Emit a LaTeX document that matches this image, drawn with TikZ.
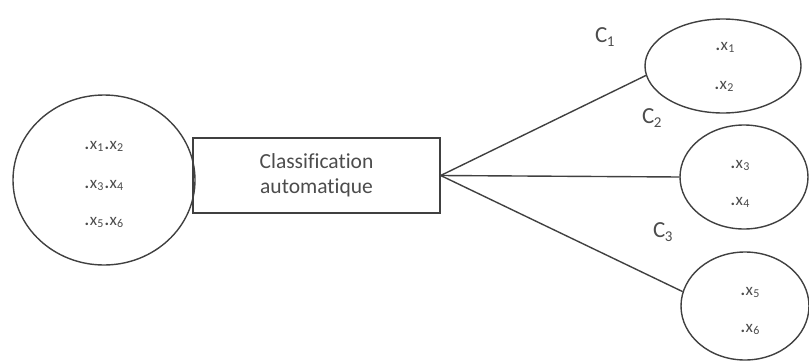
\documentclass[tikz,border=0pt]{standalone}
\usepackage{fontspec}
\setmainfont{Carlito}[Ligatures=NoCommon]
\usetikzlibrary{shapes.geometric,calc}
\definecolor{ink}{HTML}{404040}
\definecolor{txt}{HTML}{4C4C4C}
\tikzset{
  cluster/.style={ellipse, draw=ink, line width=1.4pt, inner sep=0pt},
  procbox/.style={rectangle, draw=ink, line width=1.4pt, inner sep=0pt,
    minimum width=247pt, minimum height=75pt},
  elem/.style={text=txt, font=\fontsize{17}{18}\selectfont, inner sep=0pt, anchor=base},
  clab/.style={text=txt, font=\fontsize{23}{24}\selectfont, inner sep=0pt, anchor=base west},
  link/.style={draw=ink, line width=1.4pt}
}
% one object of the set: a bold dot, an x and its index
\newcommand{\pt}[1]{\textbf{.}\kern0.5pt x\kern0.3pt\raisebox{-0.15em}{\fontsize{12}{12}\selectfont #1}}
% a cluster name with its index
\newcommand{\cls}[1]{C\kern-0.5pt\raisebox{-0.2em}{\fontsize{15}{15}\selectfont #1}}
\begin{document}
\begin{tikzpicture}[x=1pt,y=-1pt]
\useasboundingbox (0,0) rectangle (809,362);

% initial set of objects
\node[cluster, minimum width=182pt, minimum height=170pt] (E0) at (104,180) {};
\node[elem] (a12) at (104,149) {\pt{1}\kern1pt\pt{2}};
\node[elem] (a34) at (104,188) {\pt{3}\kern1pt\pt{4}};
\node[elem] (a56) at (104,225) {\pt{5}\kern1pt\pt{6}};

% classification step
\node[procbox, text=txt, align=center, font=\fontsize{21.5}{25}\selectfont] (B) at (316.5,175.5)
  {Classification\\automatique};

% resulting clusters
\node[cluster, minimum width=156pt, minimum height=94pt] (E1) at (723,66) {};
\node[elem] (b1) at (725,50) {\pt{1}};
\node[elem] (b2) at (724,89) {\pt{2}};

\node[cluster, minimum width=128pt, minimum height=104pt] (E2) at (744,177) {};
\node[elem] (c3) at (740,168) {\pt{3}};
\node[elem] (c4) at (740,205) {\pt{4}};

\node[cluster, minimum width=128pt, minimum height=108pt] (E3) at (745,306) {};
\node[elem] (d5) at (750,295) {\pt{5}};
\node[elem] (d6) at (750,332) {\pt{6}};

% cluster labels
\node[clab] (C1) at (595,42) {\cls{1}};
\node[clab] (C2) at (642,123) {\cls{2}};
\node[clab] (C3) at (653,237) {\cls{3}};

% connectors
\draw[link] (B.east) -- (E1.187);
\draw[link] (B.east) -- (E2.west);
\draw[link] (B.east) -- (E3.167);
\end{tikzpicture}
\end{document}
